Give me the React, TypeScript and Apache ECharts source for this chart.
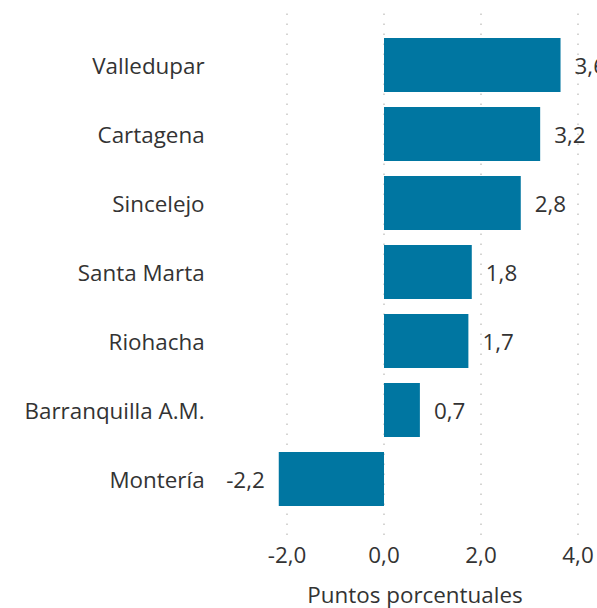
import React, { useEffect, useRef } from "react";
import * as echarts from "echarts";

const categories = [
  "Valledupar",
  "Cartagena",
  "Sincelejo",
  "Santa Marta",
  "Riohacha",
  "Barranquilla A.M.",
  "Montería",
];
const values = [3.64, 3.22, 2.82, 1.81, 1.74, 0.74, -2.17];
const gridTicks = [-2, 0, 2, 4];
const axisTitle = "Puntos porcentuales";

const FONT = '"Segoe UI", "Open Sans", sans-serif';
const FS = 22.4;
const TEXT = "#333333";
const BAR = "#0076A1";

const fmt = (v: number) => v.toFixed(1).replace(".", ",");

export default function App() {
  const ref = useRef<HTMLDivElement>(null);
  useEffect(() => {
    document.body.style.margin = "0";
    const chart = echarts.init(ref.current!, null, { renderer: "svg" });
    const xMin = -2.4;
    const xMax = 4.6;
    const left = 267.6;
    const width = 339.5;
    chart.setOption({
      animation: false,
      textStyle: { fontFamily: FONT },
      grid: [
        { left, width, top: 30.5, height: 483, outerBoundsMode: "none", containLabel: false },
        { left, width, top: 13, height: 522, outerBoundsMode: "none", containLabel: false },
      ],
      xAxis: [
        {
          gridIndex: 0,
          type: "value",
          min: xMin,
          max: xMax,
          axisLine: { show: false },
          axisTick: { show: false },
          axisLabel: { show: false },
          splitLine: { show: false },
        },
        {
          gridIndex: 1,
          type: "value",
          min: xMin,
          max: xMax,
          axisLine: { show: false },
          axisTick: { show: false },
          splitLine: { show: false },
          axisLabel: {
            margin: 8,
            fontSize: FS,
            color: TEXT,
            fontFamily: FONT,
            formatter: (v: number) =>
              gridTicks.some((t) => Math.abs(t - v) < 1e-9) ? fmt(v) : "",
          },
        },
      ],
      yAxis: [
        {
          gridIndex: 0,
          type: "category",
          inverse: true,
          data: categories,
          axisLine: { show: false },
          axisTick: { show: false },
          axisLabel: {
            margin: 63,
            fontSize: FS,
            color: TEXT,
            fontFamily: FONT,
          },
        },
        {
          gridIndex: 1,
          type: "value",
          min: 0,
          max: 1,
          show: false,
        },
      ],
      series: [
        {
          type: "line",
          xAxisIndex: 1,
          yAxisIndex: 1,
          data: [],
          silent: true,
          z: 0,
          markLine: {
            silent: true,
            z: 0,
            symbol: "none",
            label: { show: false },
            lineStyle: { color: "#C8C6C4", width: 1.5, type: [1.5, 8.5] },
            data: gridTicks.map((t) => ({ xAxis: t })),
          },
        },
        {
          type: "bar",
          xAxisIndex: 0,
          yAxisIndex: 0,
          z: 3,
          barWidth: 54,
          itemStyle: { color: BAR },
          data: values.map((v) => ({
            value: v,
            label: { position: v < 0 ? "left" : "right" },
          })),
          label: {
            show: true,
            distance: 14,
            fontSize: FS,
            color: TEXT,
            fontFamily: FONT,
            formatter: (p: any) => fmt(p.value),
          },
        },
      ],
      graphic: [
        {
          type: "text",
          x: 415,
          y: 594,
          style: {
            text: axisTitle,
            font: `${FS}px ${FONT}`,
            fill: TEXT,
            textAlign: "center",
            textVerticalAlign: "middle",
          },
        },
      ],
    });
    return () => chart.dispose();
  }, []);
  return <div ref={ref} style={{ width: 597, height: 608 }} />;
}
